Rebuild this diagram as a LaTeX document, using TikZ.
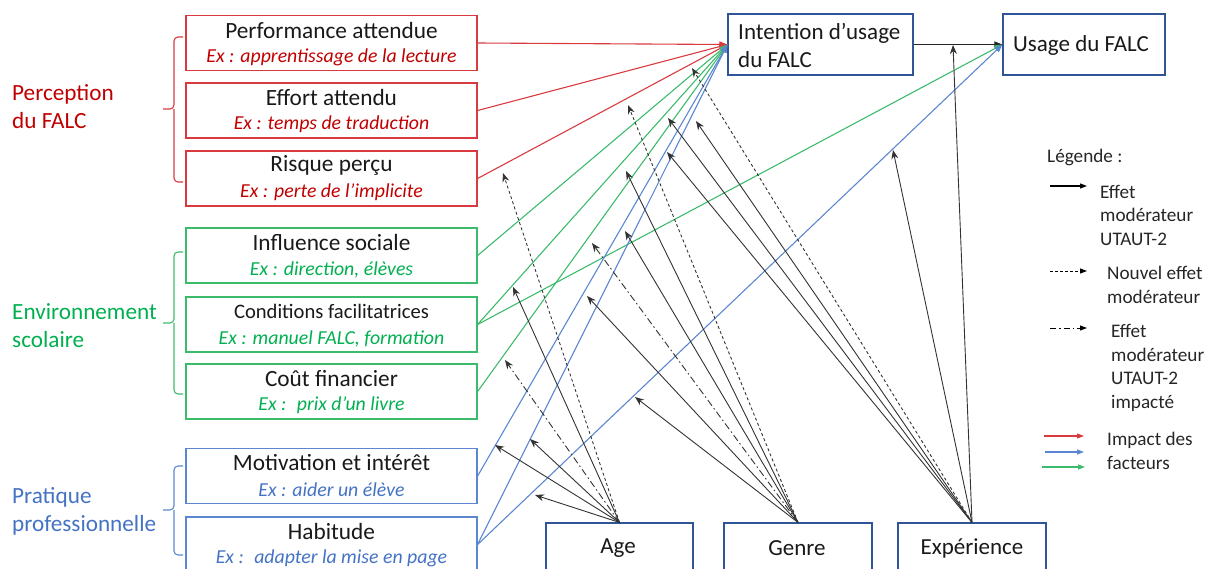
\documentclass[tikz,border=0pt]{standalone}
\usepackage{fontspec}
\setmainfont{Carlito}
\usetikzlibrary{arrows.meta}
\definecolor{cred}{HTML}{C00000}
\definecolor{lred}{HTML}{D93A3F}
\definecolor{cgreen}{HTML}{00B050}
\definecolor{lgreen}{HTML}{3DBB6C}
\definecolor{cblue}{HTML}{4472C4}
\definecolor{lblue}{HTML}{5B87D0}
\definecolor{dblue}{HTML}{2F5597}
\definecolor{modc}{HTML}{333333}
\newcommand{\factorbox}[5]{%
  \node[fbox, draw=#3] (#1) at (331.5,#2) {};
  \node[ftitle] (#1t) at (331.5,#2-13) {#4};
  \node[fsub, text=#3] (#1s) at (331.5,#2+14) {#5};
}
\begin{document}
\begin{tikzpicture}[x=1pt,y=-1pt,
  fbox/.style={rectangle, minimum width=291pt, minimum height=55pt, line width=1.2pt, inner sep=0pt},
  ftitle/.style={font=\fontsize{23.3}{27}\selectfont, text=black!90, inner sep=0pt},
  fsub/.style={font=\fontsize{19.8}{23}\selectfont\itshape, inner sep=0pt},
  cat/.style={align=left, anchor=west, font=\fontsize{23.2}{28}\selectfont, inner sep=0pt},
  obox/.style={draw=dblue, line width=1.1pt, rectangle, inner sep=0pt},
  otext/.style={font=\fontsize{23}{28}\selectfont, text=black!90, inner sep=0pt},
  leg/.style={align=left, anchor=west, font=\fontsize{19.2}{23.5}\selectfont, text=black!85, inner sep=0pt},
  imp/.style={line width=1.1pt, -{Triangle[length=8pt,width=6pt]}},
  modsolid/.style={draw=modc, line width=0.9pt, -{Stealth[length=9pt,width=7pt]}},
  moddash/.style={modsolid, dash pattern=on 3pt off 2.5pt},
  moddot/.style={modsolid, dash pattern=on 7pt off 3pt on 1.5pt off 3pt},
  bracket/.style={line width=1.1pt, rounded corners=4pt},
  legarrow/.style={line width=1.1pt, -{Triangle[length=7pt,width=5pt]}}
]
\useasboundingbox (0,0) rectangle (1208,568);
\clip (0,0) rectangle (1208,568);

% category labels
\node[cat, text=cred] (catp) at (12,106.5) {Perception\\du FALC};
\node[cat, text=cgreen] (cate) at (12,326) {Environnement\\scolaire};
\node[cat, text=cblue] (catr) at (12,511.5) {Pratique\\professionnelle};

% brackets
\draw[bracket, draw=lred] (183,37) -| (174,109) -- (163,109);
\draw[bracket, draw=lred] (183,182) -| (174,109);
\draw[bracket, draw=lgreen] (183,252) -| (174,323) -- (163,323);
\draw[bracket, draw=lgreen] (183,394) -| (174,323);
\draw[bracket, draw=lblue] (183,466) -| (174,510) -- (163,510);
\draw[bracket, draw=lblue] (183,555) -| (174,510);

% factor boxes
\factorbox{perf}{43}{lred}{Performance attendue}{\color{cred}Ex : apprentissage de la lecture}
\factorbox{eff}{110.5}{lred}{Effort attendu}{\color{cred}Ex : temps de traduction}
\factorbox{risk}{178.5}{lred}{Risque perçu}{\color{cred}Ex : perte de l’implicite}
\factorbox{infl}{255.5}{lgreen}{Influence sociale}{\color{cgreen}Ex : direction, élèves}
\factorbox{cond}{324.5}{lgreen}{\fontsize{20.6}{23}\selectfont Conditions facilitatrices}{\color{cgreen}Ex : manuel FALC, formation}
\factorbox{cout}{391.5}{lgreen}{Coût financier}{\color{cgreen}Ex :~ prix d’un livre}
\factorbox{moti}{476}{lblue}{Motivation et intérêt}{\color{cblue}Ex : aider un élève}
\factorbox{habi}{544.5}{lblue}{Habitude}{\color{cblue}Ex :~ adapter la mise en page}

% outcome boxes
\node[obox, minimum width=185pt, minimum height=61pt] (intent) at (820.5,44.5) {};
\node[otext, align=left, anchor=west] (intentt) at (738,45) {Intention d’usage\\du FALC};
\node[obox, minimum width=162pt, minimum height=61pt] (usage) at (1084,44.5) {};
\node[otext, anchor=west] (usaget) at (1013,45) {Usage du FALC};

% moderator boxes
\node[obox, minimum width=147pt, minimum height=70pt] (age) at (619.5,558) {};
\node[otext] (aget) at (618,548) {Age};
\node[obox, minimum width=148pt, minimum height=70pt] (genre) at (798,558) {};
\node[otext] (genret) at (797,548) {Genre};
\node[obox, minimum width=148pt, minimum height=70pt] (exp) at (972,558) {};
\node[otext] (expt) at (972,548) {Expérience};

% intention -> usage
\draw[line width=1pt, draw=black!85, -{Triangle[length=8pt,width=6pt]}] (intent.east) -- (usage.west);

% factor impacts
\draw[imp, draw=lred] (perf.east) -- (intent.west);
\draw[imp, draw=lred] (eff.east) -- (intent.west);
\draw[imp, draw=lred] (risk.east) -- (intent.west);
\draw[imp, draw=lgreen] (infl.east) -- (intent.west);
\draw[imp, draw=lgreen] (cond.east) -- (intent.west);
\draw[imp, draw=lgreen] (cond.east) -- (usage.west);
\draw[imp, draw=lgreen] (cout.east) -- (intent.west);
\draw[imp, draw=lblue] (moti.east) -- (intent.west);
\draw[imp, draw=lblue] (habi.east) -- (intent.west);
\draw[imp, draw=lblue] (habi.east) -- (usage.west);

% moderator arrow targets
\coordinate (a1) at (535,495);
\coordinate (a2) at (495,445);
\coordinate (a3) at (530,439);
\coordinate (a4) at (505,360);
\coordinate (a5) at (513,287);
\coordinate (a6) at (503,173);
\coordinate (g1) at (635,397);
\coordinate (g2) at (587,296);
\coordinate (g3) at (592,243);
\coordinate (g4) at (625,231);
\coordinate (g5) at (626,171);
\coordinate (g6) at (628,105);
\coordinate (e1) at (692,68);
\coordinate (e2) at (668,118);
\coordinate (e3) at (696,121);
\coordinate (e4) at (667,152);
\coordinate (e5) at (893,150);
\coordinate (e6) at (953,45);

% age
\draw[modsolid] (age.north) -- (a1);
\draw[modsolid] (age.north) -- (a2);
\draw[modsolid] (age.north) -- (a3);
\draw[moddot] (age.north) -- (a4);
\draw[modsolid] (age.north) -- (a5);
\draw[moddash] (age.north) -- (a6);
% genre
\draw[modsolid] (genre.north) -- (g1);
\draw[modsolid] (genre.north) -- (g2);
\draw[moddot] (genre.north) -- (g3);
\draw[modsolid] (genre.north) -- (g4);
\draw[modsolid] (genre.north) -- (g5);
\draw[moddash] (genre.north) -- (g6);
% experience
\draw[moddash] (exp.north) -- (e1);
\draw[modsolid] (exp.north) -- (e2);
\draw[modsolid] (exp.north) -- (e3);
\draw[modsolid] (exp.north) -- (e4);
\draw[modsolid] (exp.north) -- (e5);
\draw[modsolid] (exp.north) -- (e6);

% legend
\node[leg] (legt) at (1047,157) {Légende :};
\coordinate (l1a) at (1050,186); \coordinate (l1b) at (1087,186);
\draw[legarrow, draw=black] (l1a) -- (l1b);
\node[leg] (leg1) at (1100,215) {Effet\\modérateur\\UTAUT-2};
\coordinate (l2a) at (1050,271); \coordinate (l2b) at (1087,271);
\draw[legarrow, draw=black, line width=0.9pt, dash pattern=on 3pt off 2pt] (l2a) -- (l2b);
\node[leg] (leg2) at (1107,285) {Nouvel effet\\modérateur};
\coordinate (l3a) at (1050,328); \coordinate (l3b) at (1087,328);
\draw[legarrow, draw=black, line width=0.9pt, dash pattern=on 6pt off 3pt on 1.5pt off 3pt] (l3a) -- (l3b);
\node[leg] (leg3) at (1111,368) {Effet\\modérateur\\UTAUT-2\\impacté};
\coordinate (l4a) at (1044,436); \coordinate (l4b) at (1084,436);
\coordinate (l5a) at (1045,452); \coordinate (l5b) at (1084,452);
\coordinate (l6a) at (1042,467); \coordinate (l6b) at (1085,467);
\draw[legarrow, draw=lred] (l4a) -- (l4b);
\draw[legarrow, draw=lblue] (l5a) -- (l5b);
\draw[legarrow, draw=lgreen] (l6a) -- (l6b);
\node[leg] (leg4) at (1107,451) {Impact des\\facteurs};
\end{tikzpicture}
\end{document}
